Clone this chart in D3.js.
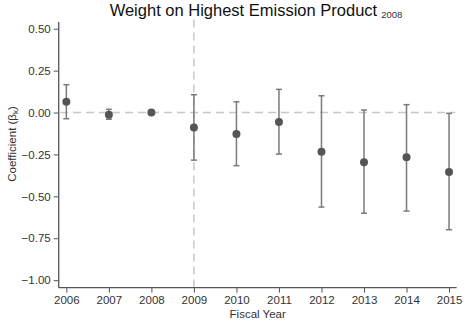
<!DOCTYPE html>
<meta charset="utf-8">
<title>Weight on Highest Emission Product</title>
<script src="https://d3js.org/d3.v7.min.js"></script>
<style>
  body { margin: 0; background: #fff; font-family: "Liberation Sans", Arial, sans-serif; }
</style>
<div id="my_dataviz"></div>
<script>

// data
var years = [2006, 2007, 2008, 2009, 2010, 2011, 2012, 2013, 2014, 2015];
var coef  = [0.064, -0.013, 0.000, -0.090, -0.128, -0.057, -0.234, -0.297, -0.267, -0.355];
var ciHi  = [0.166, 0.019, null, 0.106, 0.064, 0.138, 0.100, 0.015, 0.047, -0.005];
var ciLo  = [-0.037, -0.040, null, -0.284, -0.317, -0.248, -0.564, -0.601, -0.588, -0.699];
var yTicks = [0.50, 0.25, 0.00, -0.25, -0.50, -0.75, -1.00];

var W = 467, H = 321;
var svg = d3.select("#my_dataviz")
  .append("svg")
    .attr("width", W)
    .attr("height", H);

var x = d3.scaleLinear()
  .domain([2005.82, 2015.18])
  .range([58.7, 456.7]);

var y = d3.scaleLinear()
  .domain([-1.045, 0.54])
  .range([287.7, 22]);

var axisColor = "#555";

// reference lines
svg.append("line")
  .attr("x1", x(2005.85)).attr("x2", x(2015.15))
  .attr("y1", y(0)).attr("y2", y(0))
  .attr("stroke", "#c8c8c8").attr("stroke-width", 1.5)
  .attr("stroke-dasharray", "8,5");

svg.append("line")
  .attr("x1", x(2009)).attr("x2", x(2009))
  .attr("y1", y(0.555)).attr("y2", y(-1.045))
  .attr("stroke", "#c8c8c8").attr("stroke-width", 1.5)
  .attr("stroke-dasharray", "8,5");

// Y axis
var yAxis = svg.append("g")
  .attr("transform", "translate(" + x.range()[0] + ",0)")
  .call(d3.axisLeft(y).tickValues(yTicks).tickSize(5).tickPadding(3)
        .tickFormat(d3.format(".2f")));

// X axis
var xAxis = svg.append("g")
  .attr("transform", "translate(0," + y.range()[0] + ")")
  .call(d3.axisBottom(x).tickValues(years).tickSize(5).tickPadding(3)
        .tickFormat(d3.format("d")));

[yAxis, xAxis].forEach(function(a) {
  a.select(".domain").attr("stroke", axisColor).attr("stroke-width", 1.3);
  a.selectAll(".tick line").attr("stroke", axisColor);
  a.selectAll("text")
    .attr("fill", "#333")
    .style("font-family", '"Liberation Sans", Arial, sans-serif')
    .style("font-size", "11.5px");
});
xAxis.select(".domain").attr("d", "M" + x.range()[0] + ",0H" + x.range()[1]);
yAxis.select(".domain").attr("d", "M0," + y.range()[1] + "V" + y.range()[0]);

// error bars
var bars = years.map(function(yr, i) { return {year: yr, c: coef[i], hi: ciHi[i], lo: ciLo[i]}; });
var withCi = bars.filter(function(d) { return d.hi !== null; });
var capW = 3;

svg.selectAll(".ci")
  .data(withCi)
  .enter()
  .append("line")
    .attr("class", "ci")
    .attr("x1", function(d) { return x(d.year); })
    .attr("x2", function(d) { return x(d.year); })
    .attr("y1", function(d) { return y(d.hi); })
    .attr("y2", function(d) { return y(d.lo); })
    .attr("stroke", "#7a7a7a").attr("stroke-width", 1.5);

["hi", "lo"].forEach(function(k) {
  svg.selectAll(".cap-" + k)
    .data(withCi)
    .enter()
    .append("line")
      .attr("class", "cap-" + k)
      .attr("x1", function(d) { return x(d.year) - capW; })
      .attr("x2", function(d) { return x(d.year) + capW; })
      .attr("y1", function(d) { return y(d[k]); })
      .attr("y2", function(d) { return y(d[k]); })
      .attr("stroke", "#7a7a7a").attr("stroke-width", 1.5);
});

svg.selectAll("circle")
  .data(bars)
  .enter()
  .append("circle")
    .attr("cx", function(d) { return x(d.year); })
    .attr("cy", function(d) { return y(d.c); })
    .attr("r", 4)
    .attr("fill", "#555");

// title
var title = svg.append("text")
  .attr("x", 256)
  .attr("y", 15.5)
  .attr("text-anchor", "middle")
  .attr("fill", "#111")
  .style("font-size", "16.5px");
title.append("tspan").text("Weight on Highest Emission Product");
title.append("tspan").attr("dx", 4).attr("dy", 2).style("font-size", "9.5px").attr("fill", "#333").text("2008");

// axis labels
svg.append("text")
  .attr("x", 257.7)
  .attr("y", 318)
  .attr("text-anchor", "middle")
  .attr("fill", "#333")
  .style("font-size", "11.5px")
  .text("Fiscal Year");

var yl = svg.append("text")
  .attr("transform", "translate(16,144) rotate(-90)")
  .attr("text-anchor", "middle")
  .attr("fill", "#333")
  .style("font-size", "11.5px");
yl.append("tspan").text("Coefficient (β");
yl.append("tspan").attr("dy", 2).style("font-size", "8px").text("k");
yl.append("tspan").attr("dy", -2).text(")");

</script>
